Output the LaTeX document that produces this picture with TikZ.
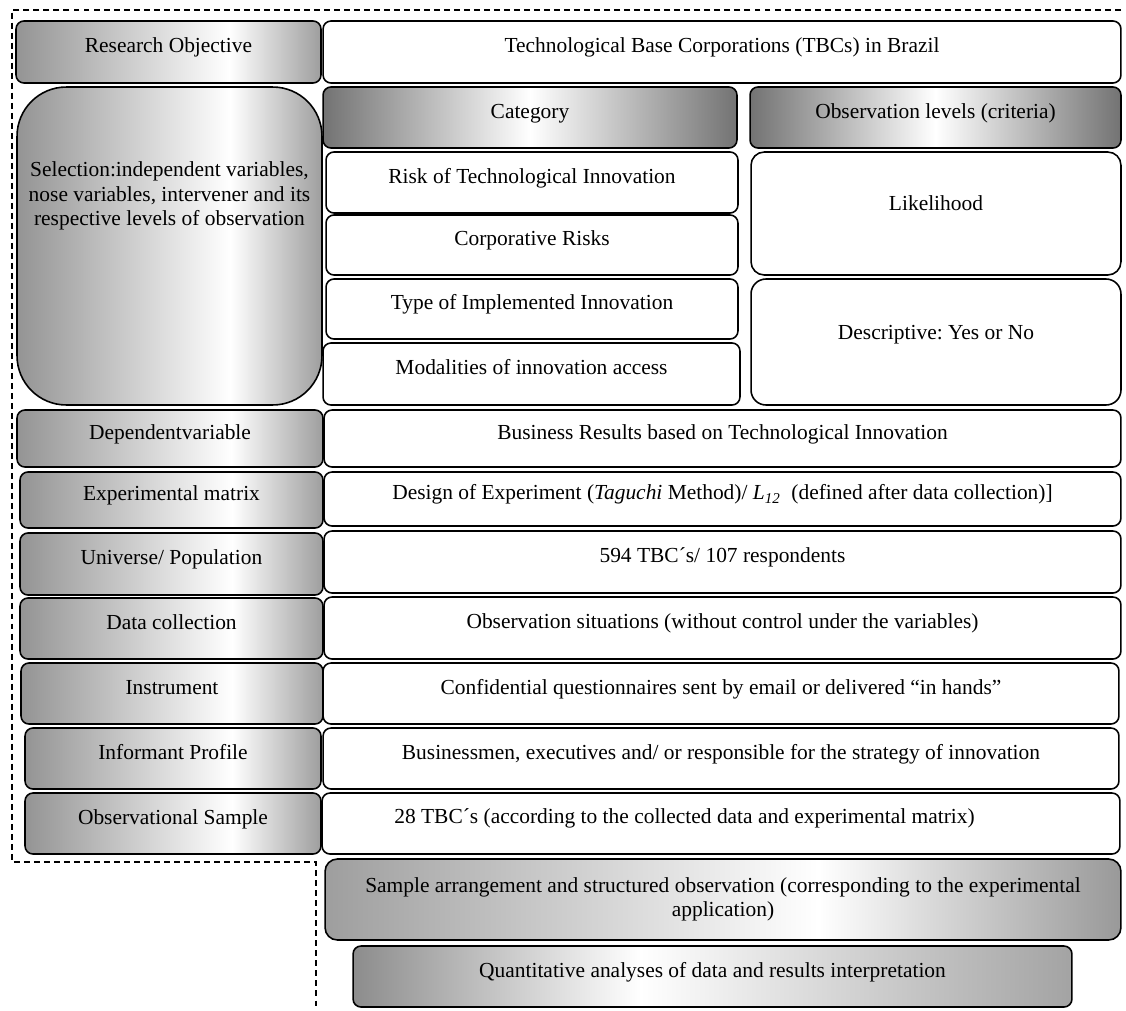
\documentclass[tikz,border=0pt]{standalone}
\usepackage{fontspec}
\setmainfont{Liberation Serif}
\usetikzlibrary{calc}
\frenchspacing
\pgfdeclarehorizontalshading{lblshade}{100bp}{color(0bp)=(black!42); color(25bp)=(black!42); color(60bp)=(white); color(75bp)=(black!38); color(100bp)=(black!38)}
\pgfdeclarehorizontalshading{arrshade}{100bp}{color(0bp)=(black!38); color(25bp)=(black!38); color(56bp)=(white); color(75bp)=(black!40); color(100bp)=(black!40)}
\pgfdeclarehorizontalshading{quashade}{100bp}{color(0bp)=(black!45); color(25bp)=(black!45); color(45bp)=(white); color(75bp)=(black!36); color(100bp)=(black!36)}
\tikzset{
  cbox/.style={draw, line width=0.9pt, rounded corners=4.5pt, font=\fontsize{12.2pt}{14pt}\selectfont, inner sep=2pt},
  lift/.style={text height=9pt, text depth=#1},
  txt/.style={font=\fontsize{12.2pt}{14pt}\selectfont, align=center, inner sep=0pt},
  lbl/.style={cbox, lift=7.9pt, shade, shading=lblshade, minimum width=6.06cm, minimum height=1.22cm},
  cell/.style={cbox, lift=7.9pt, fill=white, minimum width=15.94cm, minimum height=1.22cm},
  hdr/.style={cbox, lift=7.9pt, left color=black!55, right color=black!55, middle color=white, minimum height=1.22cm},
  dashframe/.style={dash pattern=on 3.4pt off 2.3pt, line width=0.6pt},
}
\begin{document}
\begin{tikzpicture}[x=0.02cm, y=-0.02cm]
  \useasboundingbox (0,0) rectangle (1126,1011);

  \node[lbl, minimum width=6.10cm, minimum height=1.24cm] (obj) at (168.5,52) {Research Objective};
  \node[lbl, minimum width=6.10cm, minimum height=6.36cm, rounded corners=28pt] (sel) at (169.5,246) {};
  \node[txt] (selt) at ($(sel.north)+(0,110)$) {Selection:independent variables,\\nose variables, intervener and its\\respective levels of observation};
  \node[lbl, minimum width=6.12cm, minimum height=1.14cm] (dep) at (170,438.5) {Dependentvariable};
  \node[lbl, minimum height=1.12cm] (exp) at (171.5,500) {Experimental matrix};
  \node[lbl, minimum height=1.24cm] (uni) at (171.5,564) {Universe/ Population};
  \node[lbl] (dat) at (171.5,628.5) {Data collection};
  \node[lbl, minimum width=6.04cm] (ins) at (172,693.5) {Instrument};
  \node[lbl, minimum width=5.92cm] (inf) at (173,758.5) {Informant Profile};
  \node[lbl, minimum width=5.92cm] (obs) at (173,823.5) {Observational Sample};

  \node[cell, minimum width=15.96cm, minimum height=1.24cm] (tbc) at (722,52) {Technological Base Corporations (TBCs) in Brazil};
  \node[hdr, minimum width=8.28cm] (cat) at (530,117.5) {Category};
  \node[hdr, minimum width=7.42cm] (lev) at (935.5,117.5) {Observation levels (criteria)};
  \node[cell, minimum width=8.24cm] (risk) at (532,182.5) {Risk of Technological Innovation};
  \node[cell, minimum width=8.24cm, minimum height=1.20cm] (corp) at (532,245) {Corporative Risks};
  \node[cell, minimum width=8.24cm, minimum height=1.20cm] (impl) at (532,309) {Type of Implemented Innovation};
  \node[cell, minimum width=8.34cm, minimum height=1.24cm] (mod) at (531.5,374) {Modalities of innovation access};
  \node[cell, minimum width=7.40cm, minimum height=2.46cm, rounded corners=7.5pt, lift=12.4pt] (like) at (936,213.5) {Likelihood};
  \node[cell, minimum width=7.40cm, minimum height=2.52cm, rounded corners=8.5pt, lift=12.4pt] (desc) at (936,342) {Descriptive: Yes or No};

  \node[cell, minimum height=1.14cm] (busi) at (722.5,438.5) {Business Results based on Technological Innovation};
  \node[cell, minimum height=1.08cm] (doe) at (722.5,499) {Design of Experiment (\textit{Taguchi} Method)/ \textit{L\textsubscript{12}}\ \ (defined after data collection)]};
  \node[cell, minimum height=1.24cm] (pop) at (722.5,562) {594 TBC´s/ 107 respondents};
  \node[cell, minimum height=1.24cm] (sit) at (722.5,628) {Observation situations (without control under the variables)};
  \node[cell, minimum width=15.92cm] (que) at (721,693.5) {Confidential questionnaires sent by email or delivered “in hands”};
  \node[cell, minimum width=15.92cm] (pro) at (721,758.5) {Businessmen, executives and/ or responsible for the strategy of innovation};
  \node[cell, minimum width=15.96cm] (smp) at (721,823.5) {};
  \node[txt] (smpt) at ($(smp)+(-36.5,-5.5)$) {28 TBC´s (according to the collected data and experimental matrix)};

  \node[cbox, shade, shading=arrshade, align=center, minimum width=15.92cm, minimum height=1.62cm, rounded corners=7pt] (arr) at (723,899.5) {Sample arrangement and structured observation (corresponding to the experimental\\application)};
  \node[cbox, lift=7.9pt, shade, shading=quashade, minimum width=14.38cm, minimum height=1.22cm] (qua) at (712.5,976.5) {Quantitative analyses of data and results interpretation};

  \coordinate (ftop) at (1121,10);
  \coordinate (fmid) at (12,862);
  \coordinate (fend) at (316,1008);
  \draw[dashframe] (ftop) -| (fmid) -| (fend);
\end{tikzpicture}
\end{document}
